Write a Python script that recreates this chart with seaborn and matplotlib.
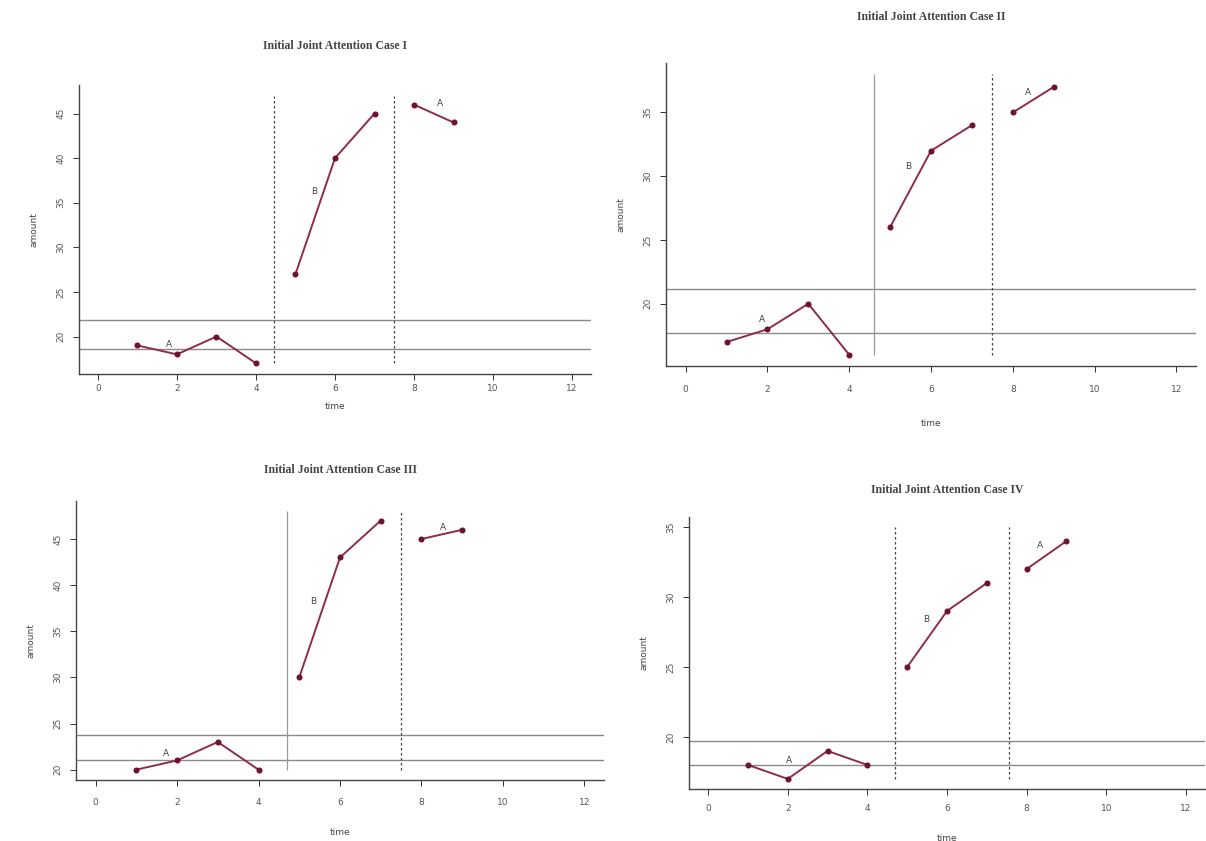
import matplotlib
matplotlib.use("Agg")
import matplotlib.pyplot as plt
import numpy as np
import pandas as pd
import seaborn as sns

sns.set_style("ticks")
plt.rcParams['font.family'] = ['DejaVu Sans']

# values
times = [1, 2, 3, 4, 5, 6, 7, 8, 9]
phases = ['A1', 'A1', 'A1', 'A1', 'B', 'B', 'B', 'A2', 'A2']

case_titles = ['Initial Joint Attention Case I', 'Initial Joint Attention Case II',
               'Initial Joint Attention Case III', 'Initial Joint Attention Case IV']
amount_case1 = [19, 18, 20, 17, 27, 40, 45, 46, 44]
amount_case2 = [17, 18, 20, 16, 26, 32, 34, 35, 37]
amount_case3 = [20, 21, 23, 20, 30, 43, 47, 45, 46]
amount_case4 = [18, 17, 19, 18, 25, 29, 31, 32, 34]

# horizontal reference lines (upper, lower)
hlines_case1 = [21.8, 18.6]
hlines_case2 = [21.15, 17.7]
hlines_case3 = [23.8, 21.0]
hlines_case4 = [19.7, 18.0]

# phase change lines
phase_x_case1 = [4.45, 7.5]
phase_x_case2 = [4.6, 7.5]
phase_x_case3 = [4.7, 7.5]
phase_x_case4 = [4.7, 7.55]

# y limits (before R style 4% padding)
ylim_case1 = [17, 47]
ylim_case2 = [16, 38]
ylim_case3 = [20, 48]
ylim_case4 = [17, 35]

yticks_case1 = [20, 25, 30, 35, 40, 45]
yticks_case2 = [20, 25, 30, 35]
yticks_case3 = [20, 25, 30, 35, 40, 45]
yticks_case4 = [20, 25, 30, 35]
xticks = [0, 2, 4, 6, 8, 10, 12]

# label positions for the phase letters
labels_case1 = [('A', 1.8, 19.1), ('B', 5.47, 36.3), ('A', 8.65, 46.1)]
labels_case2 = [('A', 1.86, 18.8), ('B', 5.43, 30.8), ('A', 8.37, 36.6)]
labels_case3 = [('A', 1.74, 21.7), ('B', 5.34, 38.2), ('A', 8.53, 46.3)]
labels_case4 = [('A', 2.04, 18.3), ('B', 5.48, 28.4), ('A', 8.34, 33.7)]

LINE_COLOR = "#8e2c4c"
MARK_COLOR = "#6e1030"
W, H = 1206, 841


def pad(lo, hi):
	d = (hi - lo) * 0.04
	return lo - d, hi + d


def add_panel(fig, box, title, amounts, hl, vx, vtypes, ylim, yticks, labels,
              titlepad, xtickpad, xlabelpad):
	x0, y0, x1, y1 = box
	ax = fig.add_axes([x0 / W, 1 - y1 / H, (x1 - x0) / W, (y1 - y0) / H])
	df = pd.DataFrame({'time': times, 'amount': amounts, 'phase': phases})
	sns.lineplot(data=df, x='time', y='amount', units='phase', estimator=None,
	             color=LINE_COLOR, lw=1.4, marker='o', markersize=3.6,
	             markerfacecolor=MARK_COLOR, markeredgecolor=MARK_COLOR, ax=ax)
	for h in hl:
		ax.axhline(h, color="#8a8a8a", lw=1.0, zorder=1)
	for v, st in zip(vx, vtypes):
		if st == 'solid':
			ax.vlines(v, ylim[0], ylim[1], color="#9a9a9a", lw=0.9, zorder=1)
		else:
			ax.vlines(v, ylim[0], ylim[1], color="#444444", lw=0.9, linestyles=(0, (2, 2)), zorder=1)
	for txt, lx, ly in labels:
		ax.text(lx, ly, txt, fontsize=6.5, color="#444444", ha='center', va='center')
	ax.set_xlim(*pad(0, 12))
	ax.set_ylim(*pad(*ylim))
	ax.set_xticks(xticks)
	ax.set_yticks(yticks)
	ax.tick_params(axis='both', labelsize=6.5, colors="#333333", length=4, width=0.7, labelcolor="#555555")
	ax.tick_params(axis='x', pad=xtickpad)
	ax.tick_params(axis='y', pad=6)
	for lab in ax.get_yticklabels():
		lab.set_rotation(90)
		lab.set_va('center')
	ax.set_xlabel('time', fontsize=6.5, color="#444444", labelpad=xlabelpad)
	ax.set_ylabel('amount', fontsize=6.5, color="#444444", labelpad=13)
	ax.set_title(title, fontsize=8.5, family='Liberation Serif', fontweight='bold', color="#444444", pad=titlepad)
	sns.despine(ax=ax)
	for s in ['left', 'bottom']:
		ax.spines[s].set_color("#444444")
		ax.spines[s].set_linewidth(1.0)
	ax.set_facecolor('white')
	return ax


fig = plt.figure(figsize=(W / 100, H / 100), dpi=100)
fig.patch.set_facecolor('white')

add_panel(fig, (79, 85, 591, 374), case_titles[0], amount_case1, hlines_case1, phase_x_case1,
          ['dotted', 'dotted'], ylim_case1, yticks_case1, labels_case1, 26, 3, 7)
add_panel(fig, (666, 63, 1196, 366), case_titles[1], amount_case2, hlines_case2, phase_x_case2,
          ['solid', 'dotted'], ylim_case2, yticks_case2, labels_case2, 31, 10, 18)
add_panel(fig, (76, 501, 604, 780), case_titles[2], amount_case3, hlines_case3, phase_x_case3,
          ['solid', 'dotted'], ylim_case3, yticks_case3, labels_case3, 20, 9, 15)
add_panel(fig, (689, 517, 1205, 789), case_titles[3], amount_case4, hlines_case4, phase_x_case4,
          ['dotted', 'dotted'], ylim_case4, yticks_case4, labels_case4, 17, 7, 15)

fig.savefig('out.png', dpi=100, facecolor='white')
